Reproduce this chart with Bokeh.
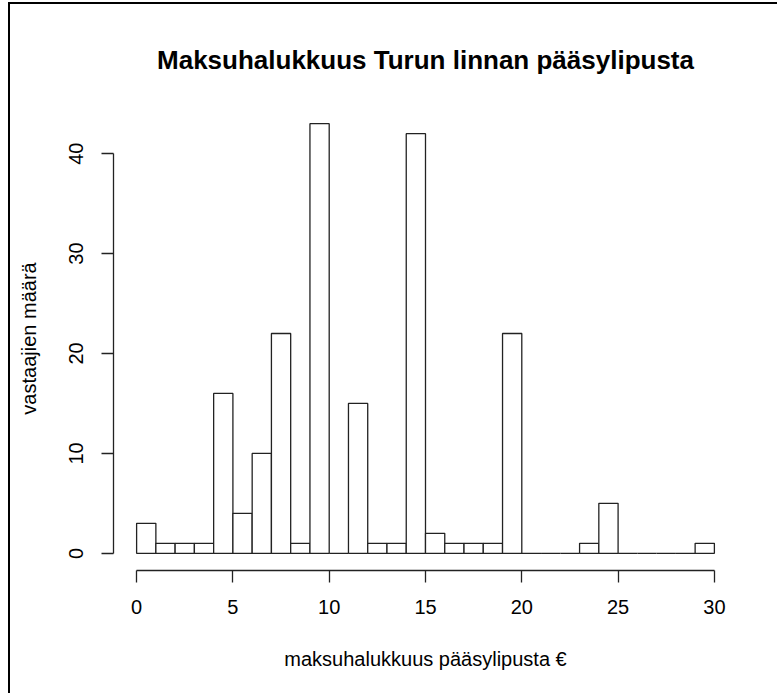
from bokeh.plotting import figure
from bokeh.models import Range1d, FixedTicker
from bokeh.embed import file_html
from bokeh.resources import INLINE

# Histogram data (bin width 1 €)
bin_left = list(range(0, 30))
bin_right = list(range(1, 31))
counts = [3, 1, 1, 1, 16, 4, 10, 22, 1, 43, 0, 15, 1, 1, 42, 2, 1, 1, 1, 22,
          0, 0, 0, 1, 5, 0, 0, 0, 0, 1]
x_ticks = [0, 5, 10, 15, 20, 25, 30]
y_ticks = [0, 10, 20, 30, 40]

FONT = "Liberation Sans"

p = figure(width=769, height=691, output_backend="svg", toolbar_location=None,
           x_range=Range1d(-1.2, 31.2), y_range=Range1d(-1.72, 44.72),
           min_border_left=103, min_border_right=42,
           min_border_top=102, min_border_bottom=125,
           title="Maksuhalukkuus Turun linnan pääsylipusta")

p.quad(left=bin_left, right=bin_right, bottom=0, top=counts,
       fill_color="white", line_color="#222222", line_width=1.3)

p.outline_line_color = None
p.xgrid.grid_line_color = None
p.ygrid.grid_line_color = None
p.background_fill_color = "white"
p.border_fill_color = "white"

p.title.text_font = FONT
p.title.text_font_size = "26px"
p.title.text_font_style = "bold"
p.title.text_color = "black"
p.title.align = "center"
p.title.standoff = 63

for ax in (p.xaxis[0], p.yaxis[0]):
    ax.axis_line_color = "#222222"
    ax.axis_line_width = 1.3
    ax.major_tick_line_color = "#222222"
    ax.major_tick_line_width = 1.3
    ax.major_tick_in = 0
    ax.major_tick_out = 12
    ax.minor_tick_line_color = None
    ax.major_label_text_font = FONT
    ax.major_label_text_font_size = "20px"
    ax.major_label_text_color = "black"
    ax.axis_label_text_font = FONT
    ax.axis_label_text_font_size = "20px"
    ax.axis_label_text_font_style = "normal"
    ax.axis_label_text_color = "black"

p.xaxis.ticker = FixedTicker(ticks=x_ticks)
p.yaxis.ticker = FixedTicker(ticks=y_ticks)
p.xaxis.bounds = (0, 30)
p.yaxis.bounds = (0, 40)
p.yaxis.major_label_orientation = "vertical"
p.xaxis.major_label_standoff = 17
p.yaxis.major_label_standoff = 18
p.xaxis.axis_label = "maksuhalukkuus pääsylipusta €"
p.yaxis.axis_label = "vastaajien määrä"
p.xaxis.axis_label_standoff = 31
p.yaxis.axis_label_standoff = 27

p.styles = {"border-top": "2px solid black", "border-left": "2px solid black",
            "margin-left": "8px", "margin-top": "2px"}

open("out.html", "w").write(file_html(p, INLINE))
